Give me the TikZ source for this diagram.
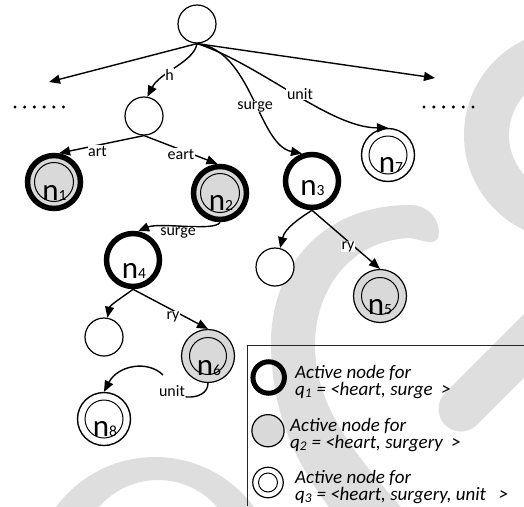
\documentclass[tikz,border=0pt]{standalone}
\usepackage{fontspec}
\setmainfont{Carlito}
\usetikzlibrary{arrows.meta}
\definecolor{wm}{HTML}{DEDEDE}
\definecolor{ngray}{HTML}{D9D9D9}
\newcommand\nlab[1]{{\fontsize{31}{31}\selectfont n}{\fontsize{15.5}{15.5}\selectfont #1}}
\begin{document}
\begin{tikzpicture}[x=1pt,y=-1pt,
  arr/.style={line width=1.4pt,-{Triangle[length=11pt,width=9pt]}},
  con/.style={line width=1.4pt},
  plainc/.style={circle,draw,line width=1.2pt,minimum size=38pt,inner sep=0pt,fill=white},
  thickc/.style={circle,draw,line width=5.5pt,minimum size=53pt,inner sep=0pt},
  thinc/.style={circle,draw,line width=1.4pt,minimum size=53pt,inner sep=0pt},
  innerc/.style={line width=1pt},
  lbl/.style={font=\fontsize{16}{16}\selectfont,fill=white,inner sep=0.6pt,anchor=base},
  nt/.style={anchor=base,inner sep=0pt},
  lgt/.style={font=\fontsize{19}{19}\selectfont\itshape,anchor=base west,inner sep=0pt},
  lgtop/.style={lgt,text height=13pt,text depth=0pt},
  lgbot/.style={lgt,text height=9pt,text depth=4pt}]
\useasboundingbox (0,0) rectangle (524,506);
% background watermark
\begin{scope}
\clip (0,0) rectangle (524,506);
\fill[wm,even odd rule] (569,135) circle[radius=105] (569,135) circle[radius=60];
\fill[wm] (335,515) .. controls (300,470) and (272,420) .. (271,345)
  .. controls (270,270) and (320,205) .. (410,205)
  .. controls (432,205) and (442,225) .. (438,238)
  .. controls (434,246) and (422,240) .. (410,238)
  .. controls (350,240) and (315,290) .. (315,345)
  .. controls (315,410) and (360,460) .. (412,520) -- cycle;
\draw[wm,line width=45pt,line cap=round] (461,409) -- (560,310);
\fill[wm,even odd rule] (155,580) circle[radius=123] (158,558) circle[radius=78];
\end{scope}
% legend frame
\draw[line width=1pt,black!85] (524,345) -- (247,345) -- (247,506);
% nodes
\node[plainc] (root) at (197,24) {};
\node[plainc] (hn) at (144,116) {};
\node[thickc,fill=ngray] (n1) at (54,182) {};
\node[thickc,fill=ngray] (n2) at (220,193) {};
\node[thickc,fill=white] (n3) at (312,181) {};
\node[thickc,fill=white] (n4) at (133,260) {};
\node[thinc,line width=1.2pt,fill=ngray] (n5) at (380,296) {};
\node[thinc,line width=1.2pt,fill=ngray] (n6) at (208,356) {};
\node[thinc,fill=white] (n7) at (388,155) {};
\node[thinc,fill=white] (n8) at (104,419) {};
\node[plainc] (e3) at (275,267) {};
\node[plainc] (e4) at (104,337) {};
\draw[innerc] (n1.center) circle[radius=19.5];
\draw[innerc] (n2.center) circle[radius=19.5];
\draw[innerc] (n5.center) circle[radius=18.5];
\draw[innerc] (n6.center) circle[radius=18.5];
\draw[innerc] (n7.center) circle[radius=19];
\draw[innerc] (n8.center) circle[radius=19];
% node texts
\node[nt] (t1) at (54.5,200) {\nlab{1}};
\node[nt] (t2) at (221,210) {\nlab{2}};
\node[nt] (t3) at (312.5,195) {\nlab{3}};
\node[nt] (t4) at (134,278) {\nlab{4}};
\node[nt] (t5) at (380,314) {\nlab{5}};
\node[nt] (t6) at (209,375) {\nlab{6}};
\node[nt] (t7) at (391,172) {\nlab{7}};
\node[nt] (t8) at (105,436) {\nlab{8}};
% free ends
\coordinate (dl) at (49,82);
\coordinate (dr) at (435,78);
\coordinate (u6a) at (163,375);
% dots
\foreach \i in {0,...,5} {
  \fill (15+9.7*\i,107) circle[radius=1.7];
  \fill (424+9.8*\i,107) circle[radius=1.7];
}
% connectors
\draw[arr] (root.south) -- (dl);
\draw[arr] (root.south) -- (dr);
\draw[arr] (root.south) .. controls (194,62) and (160,72) .. (hn.80);
\draw[arr] (root.south) .. controls (252,50) and (258,145) .. (n3.110);
\draw[arr] (root.south) .. controls (260,64) and (330,128) .. (n7.north);
\draw[arr] (hn.south) -- (n1.80);
\draw[arr] (hn.south) -- (n2.95);
\draw[arr] (n2.south) .. controls (215,232) and (160,222) .. (n4.80);
\draw[arr] (n3.south) .. controls (300,218) and (285,228) .. (e3.75);
\draw[arr] (n3.south) -- (n5.north);
\draw[arr] (n4.south) .. controls (127,294) and (110,305) .. (e4.80);
\draw[arr] (n4.south) -- (n6.north);
% labels
\node[lbl] (lh) at (169.5,80) {h};
\node[lbl] (lart) at (97.5,156) {art};
\node[lbl] (leart) at (181,159) {eart};
\node[lbl] (lsurge) at (255,109) {surge};
\node[lbl] (lunit) at (300,99) {unit};
\node[lbl] (lsurge2) at (178,235) {surge};
\node[lbl] (lry3) at (348,249) {ry};
\node[lbl] (lry4) at (173,319) {ry};
\node[lbl] (u6) at (172,396) {unit};
\draw[con] (n6.south) .. controls (208,393) and (198,398) .. (u6.south east);
\draw[arr] (u6a) .. controls (148,360) and (118,365) .. (n8.north);
% legend
\node[thickc,line width=5pt,minimum size=31.5pt] (lgA) at (268.7,377.5) {};
\node[circle,draw,line width=1.2pt,fill=ngray,minimum size=32.2pt,inner sep=0pt] (lgB) at (268,430.7) {};
\node[circle,draw,line width=1.2pt,minimum size=30.5pt,inner sep=0pt] (lgC) at (268,482.5) {};
\draw[innerc] (lgC.center) circle[radius=9.5];
\node[lgtop] (lgA1) at (295,378.3) {Active node for};
\node[lgbot] (lgA2) at (295,395) {q\textsubscript{1} = <heart, surge\ \ >};
\node[lgtop] (lgB1) at (290,431.7) {Active node for};
\node[lgbot] (lgB2) at (290,448.3) {q\textsubscript{2} = <heart, surgery\ \ >};
\node[lgtop] (lgC1) at (295,483.3) {Active node for};
\node[lgbot] (lgC2) at (295,500) {q\textsubscript{3} = <heart, surgery, unit\ \ \ >};
\end{tikzpicture}
\end{document}
